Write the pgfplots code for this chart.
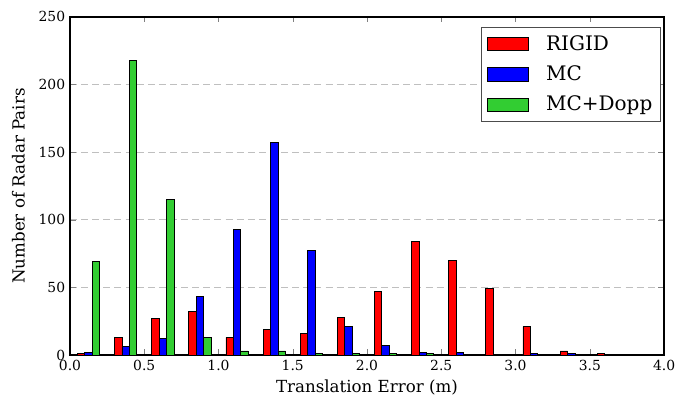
\documentclass[border=0pt]{standalone}
\usepackage{fontspec}
\setmainfont{DejaVu Serif}
\usepackage{pgfplots}
\pgfplotsset{compat=1.18}
\definecolor{mplgreen}{RGB}{50,205,50}

% bin centres 0.125, 0.375, ... ; bars shifted by ybar; empty bins as nan
\pgfplotstableread{
x      rigid  mc   dopp
0.125  1      2    69
0.375  13     6    218
0.625  27     12   115
0.875  32     43   13
1.125  13     93   3
1.375  19     157  3
1.625  16     77   1
1.875  28     21   1
2.125  47     7    1
2.375  84     2    1
2.625  70     2    nan
2.875  49     nan  nan
3.125  21     1    nan
3.375  3      1    nan
3.625  1      nan  nan
}\errtable

\begin{document}
\begin{tikzpicture}
\begin{axis}[
    scale only axis,
    width=427.7pt, height=243.4pt,
    xmin=0, xmax=4, ymin=0, ymax=250,
    ybar=0pt, bar width=0.05,
    unbounded coords=discard,
    xtick={0,0.5,1,1.5,2,2.5,3,3.5,4},
    xticklabels={0.0,0.5,1.0,1.5,2.0,2.5,3.0,3.5,4.0},
    ytick={0,50,100,150,200,250},
    /pgf/number format/assume math mode=true,
    tick label style={font=\fontsize{10}{12}\selectfont},
    label style={font=\fontsize{12}{14}\selectfont},
    xlabel={Translation Error (m)},
    ylabel={Number of Radar Pairs},
    ylabel style={yshift=3pt},
    tick align=inside,
    major tick length=4pt,
    minor tick num=0,
    axis line style={line width=1pt},
    ymajorgrids,
    major grid style={color=black!25, line width=0.6pt, dash pattern=on 5pt off 3pt},
    legend cell align=left,
    legend style={at={(0.995,0.97)}, anchor=north east,
        font=\fontsize{14.4}{17}\selectfont,
        draw=black!70, line width=0.6pt,
        inner xsep=4pt, inner ysep=4pt, row sep=5.5pt},
    legend image code/.code={
        \draw[#1, bar shift=0pt] (0pt,-4.7pt) rectangle (29.5pt,4.7pt);
        \path[draw=none, fill=none] (0pt,0pt) rectangle (40pt,0.1pt);},
]
\addplot[fill=red, draw=black, line width=0.6pt] table[x=x, y=rigid] {\errtable};
\addplot[fill=blue, draw=black, line width=0.6pt] table[x=x, y=mc] {\errtable};
\addplot[fill=mplgreen, draw=black, line width=0.6pt] table[x=x, y=dopp] {\errtable};
\legend{RIGID, MC, MC+Dopp}
\end{axis}
\path ([shift={(-50.4pt,-32.4pt)}]current axis.south west) rectangle ([shift={(12.2pt,12.2pt)}]current axis.north east);
\end{tikzpicture}
\end{document}
